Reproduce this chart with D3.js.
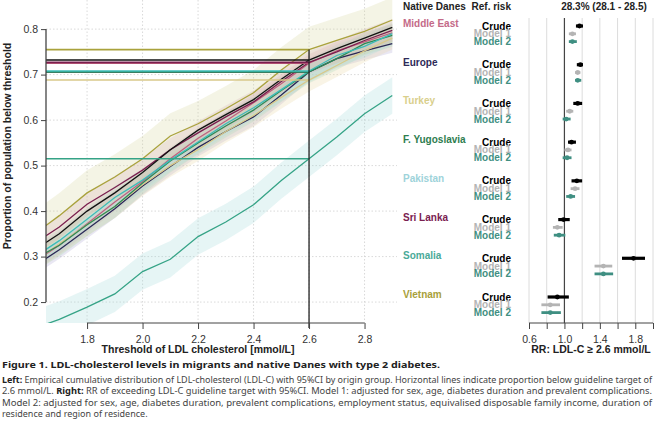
<!DOCTYPE html>
<html>
<head>
<meta charset="utf-8">
<script src="https://cdn.jsdelivr.net/npm/d3@7"></script>
<style>
  body { margin: 0; background: #fff; }
  svg { display: block; font-family: "Liberation Sans", Arial, sans-serif; }
</style>
</head>
<body>
<svg id="chart" width="658" height="423"></svg>
<script>
// thresholds of LDL cholesterol (mmol/L)
const thresholds = [1.6, 1.7, 1.8, 1.9, 2.0, 2.1, 2.2, 2.3, 2.4, 2.5, 2.6, 2.7, 2.8, 2.9];
const guideline = 2.6;

const curveGroups = ["Native Danes", "Middle East", "Europe", "Turkey", "F. Yugoslavia", "Pakistan", "Sri Lanka", "Somalia", "Vietnam"];
const ecdfNativeDanes = [0.31, 0.35, 0.40, 0.44, 0.485, 0.535, 0.578, 0.612, 0.645, 0.69, 0.732, 0.757, 0.78, 0.804];
const ecdfMiddleEast = [0.285, 0.325, 0.372, 0.42, 0.465, 0.515, 0.56, 0.598, 0.638, 0.68, 0.725, 0.752, 0.772, 0.792];
const ecdfEurope = [0.275, 0.315, 0.36, 0.405, 0.455, 0.498, 0.54, 0.575, 0.607, 0.655, 0.706, 0.735, 0.752, 0.768];
const ecdfTurkey = [0.285, 0.328, 0.37, 0.41, 0.458, 0.5, 0.535, 0.575, 0.61, 0.65, 0.688, 0.72, 0.752, 0.78];
const ecdfYugoslavia = [0.29, 0.325, 0.37, 0.41, 0.462, 0.51, 0.55, 0.587, 0.622, 0.665, 0.706, 0.735, 0.768, 0.786];
const ecdfPakistan = [0.295, 0.335, 0.382, 0.43, 0.468, 0.512, 0.552, 0.592, 0.627, 0.667, 0.708, 0.742, 0.762, 0.79];
const ecdfSriLanka = [0.325, 0.365, 0.415, 0.452, 0.49, 0.535, 0.572, 0.607, 0.64, 0.685, 0.727, 0.75, 0.775, 0.797];
const ecdfSomalia = [0.14, 0.162, 0.189, 0.218, 0.267, 0.294, 0.344, 0.376, 0.414, 0.467, 0.515, 0.563, 0.614, 0.654];
const ecdfVietnam = [0.345, 0.39, 0.44, 0.475, 0.515, 0.565, 0.592, 0.625, 0.66, 0.71, 0.755, 0.775, 0.795, 0.82];
// half width of the 95% CI band per group
const ciHalfWidth = [0.005, 0.02, 0.02, 0.025, 0.025, 0.025, 0.025, 0.04, 0.05];

const lineColors = ["#111111", "#c0607e", "#2b2756", "#d8c98a", "#2e8a58", "#3cbcb8", "#7a1e4e", "#35a386", "#a9a23c"];
const bandColors = ["#bbbbbb", "#e3a6bc", "#b0a8d4", "#ead9a4", "#a8d6b8", "#a8e0e0", "#d6a4be", "#a6dcdc", "#d9d6a0"];
const labelColors = ["#111111", "#c46a88", "#2d2a58", "#d9cf8c", "#2e7d4f", "#9ed3da", "#7a2150", "#4aaa98", "#a8a03a"];

// relative risk of LDL-C >= 2.6 : [estimate, lower, upper]
const forestGroups = ["Middle East", "Europe", "Turkey", "F. Yugoslavia", "Pakistan", "Sri Lanka", "Somalia", "Vietnam"];
const rrCrude = [[1.17, 1.13, 1.21], [1.18, 1.14, 1.21], [1.15, 1.10, 1.20], [1.08, 1.04, 1.13], [1.14, 1.08, 1.20], [0.99, 0.93, 1.06], [1.78, 1.65, 1.91], [0.92, 0.81, 1.05]];
const rrModel1 = [[1.09, 1.05, 1.13], [1.15, 1.12, 1.18], [1.06, 1.02, 1.10], [1.04, 1.00, 1.08], [1.12, 1.07, 1.17], [0.92, 0.87, 0.98], [1.44, 1.34, 1.54], [0.84, 0.74, 0.95]];
const rrModel2 = [[1.09, 1.05, 1.14], [1.15, 1.12, 1.19], [1.02, 0.98, 1.07], [1.03, 0.98, 1.08], [1.07, 1.02, 1.12], [0.94, 0.88, 1.01], [1.44, 1.34, 1.55], [0.84, 0.74, 0.96]];
const modelNames = ["Crude", "Model 1", "Model 2"];
const modelColors = ["#000000", "#b4b4b4", "#3f8f82"];

const xTicks = [1.8, 2.0, 2.2, 2.4, 2.6, 2.8];
const yTicks = [0.2, 0.3, 0.4, 0.5, 0.6, 0.7, 0.8];
const rrTicks = [0.6, 0.8, 1.0, 1.2, 1.4, 1.6, 1.8, 2.0];
const rrLabels = [0.6, 1.0, 1.4, 1.8];

const svg = d3.select("#chart");

// ---------- left panel: ECDF ----------
const L = { left: 46, right: 397, top: 0, bottom: 323 };
const x = d3.scaleLinear().domain([1.652, 2.917]).range([L.left, L.right]);
const y = d3.scaleLinear().domain([0.154, 0.864]).range([L.bottom, L.top]);

svg.append("defs").append("clipPath").attr("id", "plotclip")
  .append("rect").attr("x", L.left).attr("y", L.top)
  .attr("width", L.right - L.left).attr("height", L.bottom - L.top);

const grid = svg.append("g").attr("stroke", "#cfcfcf").attr("stroke-dasharray", "1.5,2").attr("stroke-width", 0.8);
grid.selectAll("line.v").data(xTicks).enter().append("line")
  .attr("x1", d => x(d)).attr("x2", d => x(d)).attr("y1", L.top).attr("y2", L.bottom);
grid.selectAll("line.h").data(yTicks).enter().append("line")
  .attr("x1", L.left).attr("x2", L.right).attr("y1", d => y(d)).attr("y2", d => y(d));

const series = [ecdfNativeDanes, ecdfMiddleEast, ecdfEurope, ecdfTurkey, ecdfYugoslavia, ecdfPakistan, ecdfSriLanka, ecdfSomalia, ecdfVietnam]
  .map((vals, i) => ({
    name: curveGroups[i],
    half: ciHalfWidth[i],
    color: lineColors[i],
    band: bandColors[i],
    points: thresholds.map((t, j) => ({ t: t, p: vals[j] })),
    atTarget: vals[thresholds.indexOf(guideline)]
  }));

const plot = svg.append("g").attr("clip-path", "url(#plotclip)");

const area = d3.area()
  .x(d => x(d.t));
plot.selectAll("path.band").data(series).enter().append("path")
  .attr("class", "band")
  .attr("d", s => area.y0(d => y(d.p - s.half)).y1(d => y(d.p + s.half))(s.points))
  .attr("fill", s => s.band)
  .attr("fill-opacity", 0.28);

const line = d3.line().x(d => x(d.t)).y(d => y(d.p));
// draw Native Danes last so it is on top
const drawOrder = series.slice(1).concat(series.slice(0, 1));
plot.selectAll("path.curve").data(drawOrder).enter().append("path")
  .attr("class", "curve")
  .attr("d", s => line(s.points))
  .attr("fill", "none")
  .attr("stroke", s => s.color)
  .attr("stroke-width", 1.3);

// horizontal lines: proportion below guideline target
plot.selectAll("line.target").data(drawOrder).enter().append("line")
  .attr("x1", L.left).attr("x2", x(guideline))
  .attr("y1", s => y(s.atTarget)).attr("y2", s => y(s.atTarget))
  .attr("stroke", s => s.color)
  .attr("stroke-width", 1.6);

svg.append("line")
  .attr("x1", x(guideline)).attr("x2", x(guideline))
  .attr("y1", y(d3.max(series, s => s.atTarget))).attr("y2", L.bottom + 5)
  .attr("stroke", "#222").attr("stroke-width", 1.3);

// axes (R style: line spans the tick range only)
const xAxis = svg.append("g").attr("transform", `translate(0,${L.bottom})`)
  .call(d3.axisBottom(x).tickValues(xTicks).tickFormat(d3.format(".1f")).tickSize(6).tickSizeOuter(0));
xAxis.select(".domain").attr("d", `M${x(xTicks[0])},0H${x(xTicks[xTicks.length - 1])}`);
xAxis.selectAll("text").attr("font-size", 10.5).attr("fill", "#333").attr("dy", "1em");
xAxis.selectAll("line, .domain").attr("stroke", "#444");

const yAxis = svg.append("g").attr("transform", `translate(${L.left},0)`)
  .call(d3.axisLeft(y).tickValues(yTicks).tickFormat(d3.format(".1f")).tickSize(5).tickSizeOuter(0));
yAxis.select(".domain").attr("d", `M0,${y(yTicks[0])}V${y(yTicks[yTicks.length - 1])}`).attr("stroke-width", 1.3);
yAxis.selectAll("text").attr("font-size", 10.5).attr("fill", "#333").attr("x", -8);
yAxis.selectAll("line, .domain").attr("stroke", "#444");

svg.append("text")
  .attr("x", (x(1.8) + x(2.6)) / 2).attr("y", 353)
  .attr("text-anchor", "middle").attr("font-size", 10.5).attr("font-weight", "bold").attr("fill", "#222")
  .text("Threshold of LDL cholesterol [mmol/L]");

svg.append("text")
  .attr("transform", "translate(11,146) rotate(-90)")
  .attr("text-anchor", "middle").attr("font-size", 10.5).attr("font-weight", "bold").attr("fill", "#222")
  .text("Proportion of population below threshold");

// ---------- right panel: forest plot ----------
const F = { top: 18, bottom: 323, labelX: 403, modelX: 511 };
const xr = d3.scaleLinear().domain([0.6, 2.0]).range([529, 653]);
const rowY = d3.scaleLinear().domain([0, forestGroups.length - 1]).range([26, 297]);
const modelStep = 7.8;

svg.append("g").selectAll("line").data(rrTicks).enter().append("line")
  .attr("x1", d => xr(d)).attr("x2", d => xr(d))
  .attr("y1", F.top).attr("y2", F.bottom)
  .attr("stroke", "#dcdcdc").attr("stroke-width", 1);
svg.append("line")
  .attr("x1", xr(1)).attr("x2", xr(1)).attr("y1", F.top).attr("y2", F.bottom)
  .attr("stroke", "#444").attr("stroke-width", 1.2);

const rrAxis = svg.append("g").attr("transform", `translate(0,${F.bottom})`)
  .call(d3.axisBottom(xr).tickValues(rrTicks)
    .tickFormat(d => rrLabels.includes(d) ? d3.format(".1f")(d) : "")
    .tickSize(6).tickSizeOuter(0));
rrAxis.select(".domain").attr("d", `M${xr(0.6)},0H${xr(2.0)}`);
rrAxis.selectAll("text").attr("font-size", 10.5).attr("fill", "#333").attr("dy", "1em");
rrAxis.selectAll("line, .domain").attr("stroke", "#444");

svg.append("text")
  .attr("x", 591).attr("y", 353)
  .attr("text-anchor", "middle").attr("font-size", 10.5).attr("font-weight", "bold").attr("fill", "#222")
  .text("RR: LDL-C \u2265 2.6 mmol/L");

// header
const head = svg.append("g").attr("font-size", 10).attr("font-weight", "bold").attr("fill", "#222");
head.append("text").attr("x", F.labelX).attr("y", 10).text("Native Danes");
head.append("text").attr("x", F.modelX).attr("y", 10).attr("text-anchor", "end").text("Ref. risk");
head.append("text").attr("x", 604).attr("y", 10).attr("text-anchor", "middle").text("28.3% (28.1 - 28.5)");

const rows = forestGroups.map((g, i) => ({
  name: g,
  i: i,
  color: labelColors[curveGroups.indexOf(g)],
  models: [rrCrude[i], rrModel1[i], rrModel2[i]].map((r, m) => ({ m: m, est: r[0], lo: r[1], hi: r[2] }))
}));

const rowG = svg.append("g").selectAll("g").data(rows).enter().append("g")
  .attr("transform", d => `translate(0,${rowY(d.i)})`);

rowG.append("text")
  .attr("x", F.labelX).attr("y", 0).attr("dy", "0.1em")
  .attr("font-size", 10).attr("font-weight", "bold")
  .attr("fill", d => d.color)
  .text(d => d.name);

rowG.selectAll("text.model").data(d => d.models).enter().append("text")
  .attr("class", "model")
  .attr("x", F.modelX).attr("y", d => d.m * modelStep).attr("dy", "0.35em")
  .attr("text-anchor", "end").attr("font-size", 10).attr("font-weight", "bold")
  .attr("fill", d => modelColors[d.m])
  .text(d => modelNames[d.m]);

rowG.selectAll("line.ci").data(d => d.models).enter().append("line")
  .attr("class", "ci")
  .attr("x1", d => xr(d.lo)).attr("x2", d => xr(d.hi))
  .attr("y1", d => d.m * modelStep).attr("y2", d => d.m * modelStep)
  .attr("stroke", d => modelColors[d.m])
  .attr("stroke-width", d => d.m === 0 ? 3.2 : 2.8);

rowG.selectAll("circle").data(d => d.models).enter().append("circle")
  .attr("cx", d => xr(d.est)).attr("cy", d => d.m * modelStep)
  .attr("r", 2.4)
  .attr("fill", d => modelColors[d.m]);

// ---------- caption ----------
const cap = svg.append("g").attr("font-family", "'Noto Sans', 'Open Sans', sans-serif").attr("fill", "#333");
cap.append("text").attr("x", 2).attr("y", 368)
  .attr("font-size", 9.6).attr("font-weight", "bold").attr("fill", "#222")
  .attr("textLength", 438).attr("lengthAdjust", "spacingAndGlyphs")
  .text("Figure 1. LDL-cholesterol levels in migrants and native Danes with type 2 diabetes.");

const capLines = [
  [["Left:", true], [" Empirical cumulative distribution of LDL-cholesterol (LDL-C) with 95%CI by origin group. Horizontal lines indicate proportion below guideline target of", false]],
  [["2.6 mmol/L. ", false], ["Right:", true], [" RR of exceeding LDL-C guideline target with 95%CI. Model 1: adjusted for sex, age, diabetes duration and prevalent complications.", false]],
  [["Model 2: adjusted for sex, age, diabetes duration, prevalent complications, employment status, equivalised disposable family income, duration of", false]],
  [["residence and region of residence.", false]]
];
capLines.forEach((parts, k) => {
  const t = cap.append("text").attr("x", 2).attr("y", 383 + k * 11.4).attr("font-size", 9);
  if (k < capLines.length - 1) t.attr("textLength", 650).attr("lengthAdjust", "spacingAndGlyphs");
  parts.forEach(p => {
    t.append("tspan").attr("font-weight", p[1] ? "bold" : "normal").attr("fill", p[1] ? "#222" : "#444").text(p[0]);
  });
});
</script>
</body>
</html>
